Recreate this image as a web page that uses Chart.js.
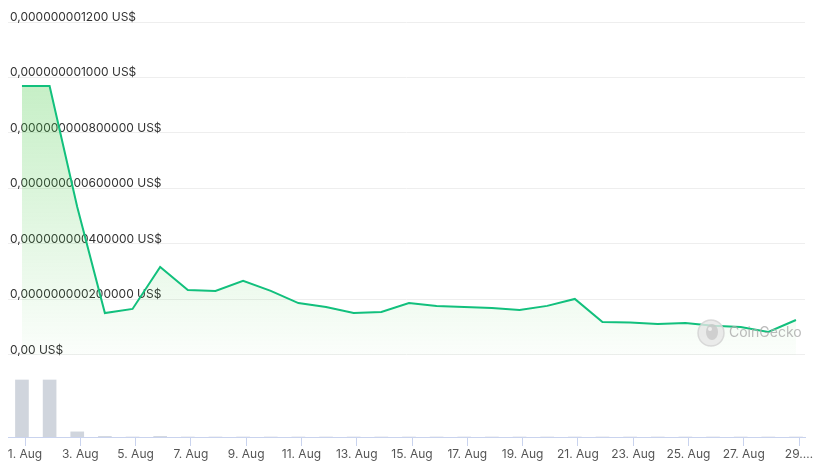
<!DOCTYPE html>
<html><head><meta charset="utf-8">
<script src="https://cdn.jsdelivr.net/npm/chart.js@4/dist/chart.umd.min.js"></script>
<style>html,body{margin:0;padding:0;background:#fff}#wrap{position:relative;width:821px;height:466px}</style>
</head><body><div id="wrap"><canvas id="c" width="821" height="466"></canvas></div>
<script>
// Day of August for each daily point
const dayValues = [0.89, 1.89, 2.89, 3.89, 4.89, 5.89, 6.89, 7.89, 8.89, 9.89,
  10.89, 11.89, 12.89, 13.89, 14.89, 15.89, 16.89, 17.89, 18.89, 19.89,
  20.89, 21.89, 22.89, 23.89, 24.89, 25.89, 26.89, 27.89, 28.89];
// Price in US$
const priceValues = [9.69e-10, 9.69e-10, 5.33e-10, 1.51e-10, 1.66e-10, 3.17e-10, 2.34e-10, 2.31e-10, 2.67e-10, 2.31e-10,
  1.87e-10, 1.73e-10, 1.51e-10, 1.55e-10, 1.87e-10, 1.77e-10, 1.73e-10, 1.69e-10, 1.62e-10, 1.77e-10,
  2.02e-10, 1.19e-10, 1.17e-10, 1.12e-10, 1.15e-10, 1.05e-10, 1.01e-10, 0.83e-10, 1.26e-10];
// Volume (relative units)
const volumeValues = [100, 100, 9, 1, 0, 1, 0, 0, 0, 0,
  0, 0, 0, 0, 0, 0, 0, 0, 0, 0,
  0, 0, 0, 0, 0, 0, 0, 0, 0];
const yTickValues = [0, 2e-10, 4e-10, 6e-10, 8e-10, 1e-9, 1.2e-9];
const yTickLabels = ['0,00 US$', '0,000000000200000 US$', '0,000000000400000 US$', '0,000000000600000 US$',
  '0,000000000800000 US$', '0,000000001000 US$', '0,000000001200 US$'];
const xTickDays = [1, 3, 5, 7, 9, 11, 13, 15, 17, 19, 21, 23, 25, 27, 29];
const xTickLabels = ['1. Aug', '3. Aug', '5. Aug', '7. Aug', '9. Aug', '11. Aug', '13. Aug', '15. Aug',
  '17. Aug', '19. Aug', '21. Aug', '23. Aug', '25. Aug', '27. Aug', '29.…'];

const FONT = 'Inter, "Noto Sans", sans-serif';

const watermark = {
  id: 'watermark',
  afterDatasetsDraw(chart) {
    const ctx = chart.ctx;
    const a = chart.chartArea;
    const cx = a.right - 94, cy = 333;
    ctx.save();
    ctx.globalAlpha = 0.8;
    ctx.beginPath();
    ctx.arc(cx, cy, 13, 0, Math.PI * 2);
    ctx.fillStyle = '#e6e6e6';
    ctx.fill();
    ctx.lineWidth = 1.5;
    ctx.strokeStyle = '#d2d2d2';
    ctx.stroke();
    ctx.beginPath();
    ctx.ellipse(cx + 1, cy - 1, 6, 8, 0, 0, Math.PI * 2);
    ctx.fillStyle = '#c8c8c8';
    ctx.fill();
    ctx.beginPath();
    ctx.arc(cx - 1, cy - 4, 2, 0, Math.PI * 2);
    ctx.fillStyle = '#f5f5f5';
    ctx.fill();
    ctx.fillStyle = '#aaaaaa';
    ctx.font = '14px ' + FONT;
    ctx.textAlign = 'left';
    ctx.textBaseline = 'middle';
    ctx.fillText('CoinGecko', cx + 18, cy);
    ctx.restore();
  }
};

new Chart(document.getElementById('c'), {
  data: {
    datasets: [
      {
        type: 'line',
        label: 'Price',
        data: priceValues.map((v, i) => ({ x: dayValues[i], y: v })),
        yAxisID: 'y',
        borderColor: '#12c07d',
        borderWidth: 2,
        pointRadius: 0,
        tension: 0,
        fill: 'origin',
        backgroundColor(context) {
          const chart = context.chart;
          const a = chart.chartArea;
          if (!a) return 'rgba(60,200,60,0.2)';
          const ys = chart.scales.y;
          const top = ys.getPixelForValue(Math.max(...priceValues));
          const bottom = ys.getPixelForValue(0);
          const g = chart.ctx.createLinearGradient(0, top, 0, bottom);
          g.addColorStop(0, 'rgba(60,200,60,0.29)');
          g.addColorStop(1, 'rgba(60,200,60,0.02)');
          return g;
        },
        order: 1
      },
      {
        type: 'bar',
        label: 'Volume',
        data: volumeValues.map((v, i) => ({ x: dayValues[i], y: v })),
        yAxisID: 'y2',
        backgroundColor: '#d0d5dd',
        barThickness: 13,
        order: 2
      }
    ]
  },
  options: {
    responsive: false,
    devicePixelRatio: 1,
    animation: false,
    layout: { padding: { top: 22, left: 8, right: 16, bottom: 0 } },
    plugins: { legend: { display: false }, tooltip: { enabled: false } },
    scales: {
      x: {
        type: 'linear',
        offset: false,
        min: 0.385,
        max: 29.217,
        afterBuildTicks(s) { s.ticks = xTickDays.map(v => ({ value: v })); },
        afterFit(s) { s.height = 29; },
        grid: { display: true, offset: false, drawOnChartArea: false, drawTicks: true, tickLength: 9, color: '#c9d3ee' },
        border: { display: true, color: '#c9d3ee' },
        ticks: {
          autoSkip: false, maxRotation: 0, padding: 1,
          color: '#555', font: { family: FONT, size: 12 },
          callback(v, i) { return xTickLabels[i]; }
        }
      },
      y: {
        type: 'linear',
        position: 'left',
        min: -2.955e-10,
        max: 1.2e-9,
        afterBuildTicks(s) { s.ticks = yTickValues.map(v => ({ value: v })); },
        afterFit(s) { s.width = 0; },
        grid: { color: '#eeeeee', drawTicks: false },
        border: { display: false },
        ticks: {
          mirror: true, padding: 2, labelOffset: -5,
          color: '#333', font: { family: FONT, size: 12 },
          callback(v, i) { return yTickLabels[i]; }
        }
      },
      y2: {
        type: 'linear',
        position: 'right',
        display: false,
        min: 0,
        max: 728
      }
    }
  },
  plugins: [watermark]
});
</script></body></html>
